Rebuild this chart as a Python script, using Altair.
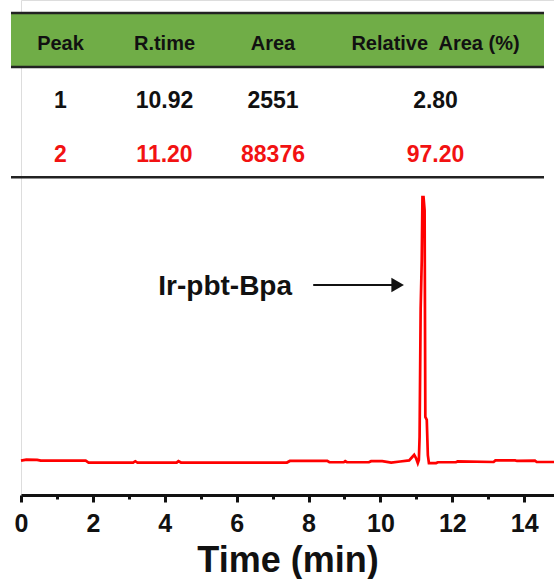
import altair as alt
import pandas as pd

# ---------------- data ----------------
headers = ["Peak", "R.time", "Area", "Relative\u00a0 Area (%)"]
peak_ids = ["1", "2"]
r_times = ["10.92", "11.20"]
areas = ["2551", "88376"]
rel_areas = ["2.80", "97.20"]

time_min = [0.00, 0.15, 0.45, 0.55, 1.80, 1.88, 3.12, 3.18, 3.24, 4.33, 4.38, 4.45,
            7.40, 7.48, 8.52, 8.58, 8.98, 9.02, 9.07, 9.68, 9.74, 10.05, 10.30, 10.55,
            10.80, 10.88, 10.94, 10.99, 11.04, 11.07, 11.09, 11.12, 11.15, 11.17, 11.20,
            11.23, 11.25, 11.29, 11.32, 11.35, 11.55, 11.60, 12.10, 12.15, 13.15, 13.20,
            13.75, 13.80, 14.30, 14.35, 14.83]
signal = [0.5, 0.9, 0.8, 0.5, 0.5, -0.2, -0.2, 0.3, -0.2, -0.2, 0.35, -0.2,
          -0.2, 0.4, 0.4, -0.1, -0.1, 0.3, -0.1, -0.1, 0.3, 0.3, -0.2, 0.2,
          0.6, 1.8, 2.7, 1.5, -0.4, 0.8, 9.4, 58.0, 76.0, 100.0, 100.0,
          95.0, 17.0, 15.9, 2.6, -0.4, -0.4, -0.1, -0.1, 0.2, 0.0, 0.6,
          0.6, 0.4, 0.5, 0.0, 0.0]

x_ticks = list(range(0, 15))
annotation_label = ["Ir-pbt-Bpa"]
annotation_time = [3.82]
annotation_signal = [63.0]
arrow_start = [8.13]
arrow_end = [10.33]
arrow_head = [10.48]
arrow_signal = [66.8]

# ---------------- layout / style ----------------
FONT = "Liberation Sans"
RED = "#f21212"
BLACK = "#111111"
GREEN = "#70ad47"
col_widths = [99, 109, 108, 217]
header_band = 1.01
bottom_line = 3.07

edges = [0]
for w in col_widths:
    edges.append(edges[-1] + w)
centers = [(edges[i] + edges[i + 1]) / 2 for i in range(len(col_widths))]

rows = []
for i, h in enumerate(headers):
    rows.append({"cx": centers[i], "ry": 0.69, "label": h, "kind": "head", "color": BLACK})
for r, vals in enumerate(zip(peak_ids, r_times, areas, rel_areas)):
    for i, v in enumerate(vals):
        rows.append({"cx": centers[i], "ry": r + 1.78, "label": v, "kind": "data",
                     "color": BLACK if r == 0 else RED})
table_text = pd.DataFrame(rows)

tx = alt.Scale(domain=[10, 543])
ty = alt.Scale(domain=[-0.243, 9.009], reverse=True)

band_df = pd.DataFrame({"x0": [edges[0]], "x1": [edges[-1]], "y0": [0], "y1": [header_band]})
lines_df = pd.DataFrame({"x0": [edges[0]] * 3, "x1": [edges[-1]] * 3,
                         "y": [0, header_band, bottom_line]})

band = alt.Chart(band_df).mark_rect(color=GREEN).encode(
    x=alt.X("x0:Q", scale=tx, axis=None), x2="x1:Q",
    y=alt.Y("y0:Q", scale=ty, axis=None), y2="y1:Q")
hlines = alt.Chart(lines_df).mark_rule(color="#222222", strokeWidth=2.5).encode(
    x=alt.X("x0:Q", scale=tx, axis=None), x2="x1:Q",
    y=alt.Y("y:Q", scale=ty, axis=None))
head_text = alt.Chart(table_text).transform_filter("datum.kind == 'head'").mark_text(
    font=FONT, fontSize=20, fontWeight="bold", align="center", baseline="alphabetic").encode(
    x=alt.X("cx:Q", scale=tx, axis=None), y=alt.Y("ry:Q", scale=ty, axis=None),
    text="label:N", color=alt.Color("color:N", scale=None))
data_text = alt.Chart(table_text).transform_filter("datum.kind == 'data'").mark_text(
    font=FONT, fontSize=23, fontWeight="bold", align="center", baseline="alphabetic").encode(
    x=alt.X("cx:Q", scale=tx, axis=None), y=alt.Y("ry:Q", scale=ty, axis=None),
    text="label:N", color=alt.Color("color:N", scale=None))
table = alt.layer(band, hlines, head_text, data_text)

# ---------------- chromatogram ----------------
cx = alt.Scale(domain=[0, 14.83], nice=False, zero=False)
cy = alt.Scale(domain=[-12.45, 174.35], nice=False, zero=False)

chrom_df = pd.DataFrame({"t": time_min, "s": signal})
x_axis = alt.Axis(
    orient="bottom", values=x_ticks, grid=False, labelOverlap=False, labelFlush=False,
    labelExpr="datum.value % 2 === 0 ? datum.label : ''",
    tickSize={"condition": {"test": "datum.value % 2 === 0", "value": 7}, "value": 4},
    tickWidth=3, tickColor=BLACK, domainColor=BLACK, domainWidth=3,
    labelFont=FONT, labelFontSize=25, labelFontWeight="bold", labelColor=BLACK, labelPadding=9,
    title="Time (min)", titleFont=FONT, titleFontSize=36, titleFontWeight="bold",
    titleColor=BLACK, titleBaseline="alphabetic", titleY=76)

line = alt.Chart(chrom_df).mark_line(color="#ff0000", strokeWidth=2.7).encode(
    x=alt.X("t:Q", scale=cx, axis=x_axis),
    y=alt.Y("s:Q", scale=cy, axis=None))

ann_df = pd.DataFrame({"t": annotation_time, "s": annotation_signal, "label": annotation_label})
ann = alt.Chart(ann_df).mark_text(font=FONT, fontSize=28, fontWeight="bold", align="left",
                                  baseline="alphabetic", color=BLACK).encode(
    x=alt.X("t:Q", scale=cx, axis=x_axis), y=alt.Y("s:Q", scale=cy, axis=None),
    text="label:N")

arrow_df = pd.DataFrame({"t0": arrow_start, "t1": arrow_end, "th": arrow_head, "s": arrow_signal})
shaft = alt.Chart(arrow_df).mark_rule(color=BLACK, strokeWidth=1.8).encode(
    x=alt.X("t0:Q", scale=cx, axis=x_axis), x2="t1:Q",
    y=alt.Y("s:Q", scale=cy, axis=None))
head = alt.Chart(arrow_df).mark_point(shape="triangle-right", filled=True, size=210,
                                      color=BLACK, opacity=1).encode(
    x=alt.X("th:Q", scale=cx, axis=x_axis), y=alt.Y("s:Q", scale=cy, axis=None))

chrom = alt.layer(line, ann, shaft, head)

chart = alt.layer(table, chrom).resolve_scale(x="independent", y="independent").properties(
    width=533, height=495,
    autosize=alt.AutoSizeParams(type="none"),
    padding={"left": 21, "top": 0, "right": 0, "bottom": 84},
).configure_view(strokeWidth=0, strokeOpacity=0).configure(background="white")

chart.save("out.html", embed_options={"renderer": "svg", "actions": False})
